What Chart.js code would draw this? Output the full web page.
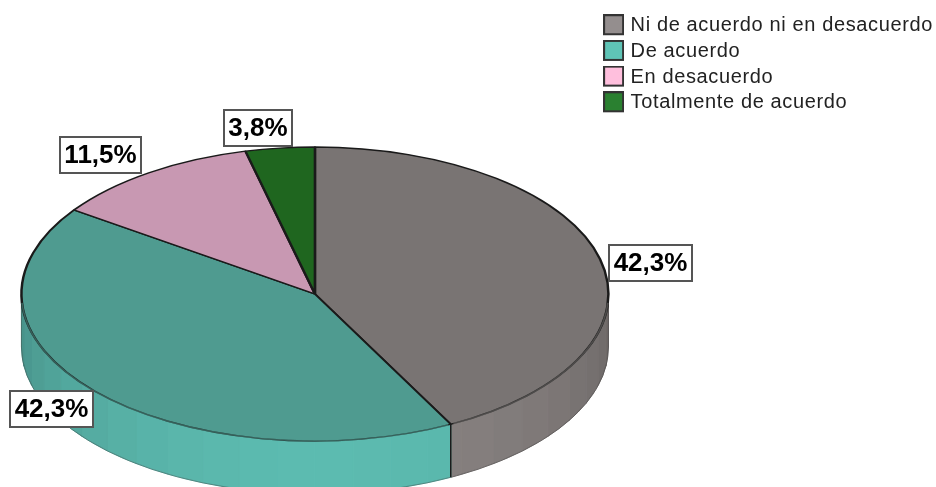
<!DOCTYPE html>
<html>
<head>
<meta charset="utf-8">
<title>Grado de acuerdo</title>
<script src="https://cdn.jsdelivr.net/npm/chart.js@4"></script>
<style>
  html, body { margin: 0; padding: 0; background: #fff; overflow: hidden; }
  canvas { display: block; }
</style>
</head>
<body>
<canvas id="pie" width="936" height="487"></canvas>
<script>
const categories = ["Ni de acuerdo ni en desacuerdo", "De acuerdo", "En desacuerdo", "Totalmente de acuerdo"];
const percentages = [42.3, 42.3, 11.5, 3.8];

const topColors = ["#797473", "#4f9b90", "#c898b2", "#1f661f"];
const legendColors = ["#948e8e", "#5fc4b6", "#ffbfdd", "#2a8030"];
const sideColors = [[136, 130, 129], [92, 187, 176], [200, 152, 178], [31, 102, 31]];

// left/top of each value box, same order as the categories
const labelLeft = [608, 9, 59, 223];
const labelTop = [244, 390, 136, 109];

const pieCenterY = 294;
const pieRadius = 293.5;
const tilt = 147 / 293.5;
const wallDepth = 53;
const facetStep = Math.PI / 24;

Chart.defaults.font.family = "'Liberation Sans', Arial, sans-serif";

function swatch(color) {
    const c = document.createElement("canvas");
    c.width = 21;
    c.height = 23; // 2px spare below, lifts the box a little above the text middle
    const g = c.getContext("2d");
    g.fillStyle = color;
    g.fillRect(0, 0, 21, 21);
    g.strokeStyle = "#333";
    g.lineWidth = 2;
    g.strokeRect(1, 1, 19, 19);
    return c;
}

function facetShade(rgb, angle) {
    const f = 0.78 + 0.22 * Math.cos(angle - 88 * Math.PI / 180);
    return "rgb(" + rgb.map(v => Math.round(v * f)).join(",") + ")";
}

// the front wall and the flattening of the pie
const tiltedPie = {
    id: "tiltedPie",
    beforeUpdate(chart) {
        chart.ctx.letterSpacing = "0.63px";
    },
    beforeDatasetsDraw(chart) {
        const ctx = chart.ctx;
        const arcs = chart.getDatasetMeta(0).data;

        ctx.save();
        arcs.forEach((arc, i) => {
            const from = Math.max(arc.startAngle, 0);
            const to = Math.min(arc.endAngle, Math.PI);
            if (to <= from) return;
            let a = from;
            while (a < to) {
                const next = Math.min((Math.floor(a / facetStep + 1e-6) + 1) * facetStep, to);
                const color = facetShade(sideColors[i], (a + next) / 2);
                ctx.beginPath();
                ctx.ellipse(arc.x, pieCenterY, pieRadius, pieRadius * tilt, 0, a, next);
                ctx.ellipse(arc.x, pieCenterY + wallDepth, pieRadius, pieRadius * tilt, 0, next, a, true);
                ctx.closePath();
                ctx.fillStyle = color;
                ctx.strokeStyle = color;
                ctx.lineWidth = 1;
                ctx.fill();
                ctx.stroke();
                a = next;
            }
        });
        // seams between two slices on the wall
        arcs.forEach(arc => {
            if (arc.endAngle > 0 && arc.endAngle < Math.PI) {
                const sx = arc.x + pieRadius * Math.cos(arc.endAngle);
                const sy = pieCenterY + pieRadius * tilt * Math.sin(arc.endAngle);
                ctx.beginPath();
                ctx.moveTo(sx, sy);
                ctx.lineTo(sx, sy + wallDepth);
                ctx.strokeStyle = "#1a1a1a";
                ctx.lineWidth = 1.5;
                ctx.stroke();
            }
        });
        // thin outline along the wall
        const x0 = arcs[0].x;
        ctx.beginPath();
        ctx.moveTo(x0 + pieRadius, pieCenterY);
        ctx.lineTo(x0 + pieRadius, pieCenterY + wallDepth);
        ctx.ellipse(x0, pieCenterY + wallDepth, pieRadius, pieRadius * tilt, 0, 0, Math.PI);
        ctx.lineTo(x0 - pieRadius, pieCenterY);
        ctx.strokeStyle = "rgba(60,60,60,0.4)";
        ctx.lineWidth = 1;
        ctx.stroke();
        ctx.restore();

        ctx.save();
        ctx.translate(0, pieCenterY);
        ctx.scale(1, tilt);
        ctx.translate(0, -arcs[0].y);
    },
    afterDatasetsDraw(chart) {
        const ctx = chart.ctx;
        ctx.restore();

        // the front rim is much fainter than the back one
        ctx.save();
        ctx.lineWidth = 1.6;
        chart.getDatasetMeta(0).data.forEach((arc, i) => {
            const from = Math.max(arc.startAngle, 0.05);
            const to = Math.min(arc.endAngle, Math.PI - 0.05);
            if (to <= from) return;
            ctx.beginPath();
            ctx.ellipse(arc.x, pieCenterY, pieRadius, pieRadius * tilt, 0, from + 0.01, to - 0.01);
            ctx.strokeStyle = topColors[i];
            ctx.globalAlpha = 0.55;
            ctx.stroke();
        });
        ctx.restore();
    },
    afterDraw(chart) {
        const ctx = chart.ctx;
        ctx.save();
        ctx.letterSpacing = "0px";
        ctx.font = "bold 26px 'Liberation Sans', Arial, sans-serif";
        ctx.textBaseline = "middle";
        ctx.textAlign = "center";
        percentages.forEach((value, i) => {
            const text = value.toFixed(1).replace(".", ",") + "%";
            const w = Math.round(ctx.measureText(text).width) + 11;
            const h = 38;
            ctx.fillStyle = "#fff";
            ctx.strokeStyle = "#555";
            ctx.lineWidth = 2;
            ctx.fillRect(labelLeft[i], labelTop[i], w, h);
            ctx.strokeRect(labelLeft[i] + 1, labelTop[i] + 1, w - 2, h - 2);
            ctx.fillStyle = "#000";
            ctx.fillText(text, labelLeft[i] + w / 2, labelTop[i] + h / 2 + 1);
        });
        ctx.restore();
    }
};

new Chart(document.getElementById("pie").getContext("2d"), {
    type: "pie",
    data: {
        labels: categories,
        datasets: [{
            data: percentages,
            backgroundColor: topColors,
            borderColor: "#1a1a1a",
            borderWidth: 2.5,
            clip: false
        }]
    },
    options: {
        responsive: false,
        animation: false,
        radius: pieRadius,
        layout: { padding: { left: 29, right: -7, top: 10 } },
        plugins: {
            tooltip: { enabled: false },
            legend: {
                position: "right",
                align: "start",
                labels: {
                    usePointStyle: true,
                    pointStyleWidth: 14,
                    boxHeight: 20,
                    padding: 5.7,
                    color: "#222",
                    font: { size: 20 },
                    generateLabels() {
                        return categories.map((name, i) => ({
                            text: name,
                            pointStyle: swatch(legendColors[i]),
                            fontColor: "#222",
                            hidden: false,
                            index: i
                        }));
                    }
                }
            }
        }
    },
    plugins: [tiltedPie]
});
</script>
</body>
</html>
